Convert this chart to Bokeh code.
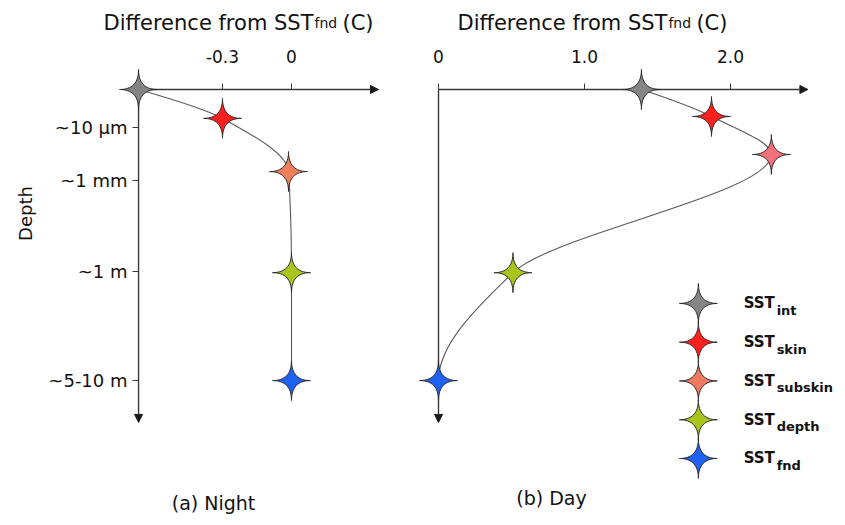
import numpy as np
from bokeh.plotting import figure
from bokeh.models import Range1d, LinearAxis, FixedTicker, Arrow, NormalHead
from bokeh.core.properties import value
from bokeh.embed import file_html
from bokeh.resources import INLINE

# ---------------- data ----------------
series = ["int", "skin", "subskin", "depth", "fnd"]
night_colors = ["#858585", "#ff1f1f", "#f0805c", "#a9c41c", "#1f62f2"]
day_colors = ["#858585", "#ff1f1f", "#f2707c", "#a9c41c", "#1f62f2"]
legend_colors = ["#858585", "#ff1f1f", "#ee7b60", "#a9c41c", "#1f62f2"]

night_diff = [-0.665, -0.30, -0.013, 0.0, 0.0]
night_depth = [0.0, 0.76, 2.16, 4.82, 7.66]
day_diff = [1.39, 1.87, 2.28, 0.51, 0.0]
day_depth = [0.0, 0.71, 1.71, 4.82, 7.66]

night_ticks = [-0.3, 0.0]
night_tick_labels = ["-0.3", "0"]
day_ticks = [0.0, 1.0, 2.0]
day_tick_labels = ["0", "1.0", "2.0"]
depth_ticks = [1.0, 2.39, 4.79, 7.66]
depth_tick_labels = ["~10 μm", "~1 mm", "~1 m", "~5-10 m"]

# ---------------- layout constants ----------------
NX, DX, DY = 230.0, 146.0, 38.0          # px per unit (night x, day x, depth)
NIGHT_X0, NIGHT_X_END = -0.665, 0.378
DAY_X0, DAY_X_END = 0.0, 2.53
DEPTH_END = 8.76
FONT = "DejaVu Sans"
AXIS_COLOR = "#3a3a3a"

p = figure(width=837, height=517,
           x_range=Range1d(-1.2652, 2.3739), y_range=Range1d(11.263, -2.3421),
           x_axis_location=None, y_axis_location=None,
           toolbar_location=None, output_backend="svg", min_border=0)
p.extra_x_ranges = {"day": Range1d(-3.0, 2.7329)}
p.grid.visible = False
p.outline_line_color = None
p.background_fill_color = "white"


def style_axis(ax, size="17px"):
    ax.axis_line_color = None
    ax.major_tick_out = 6
    ax.major_tick_in = 0
    ax.major_tick_line_color = AXIS_COLOR
    ax.major_tick_line_width = 1
    ax.minor_tick_line_color = None
    ax.major_label_text_font = FONT
    ax.major_label_text_font_size = size
    ax.major_label_text_color = "#111111"


ax_n = LinearAxis(ticker=FixedTicker(ticks=night_ticks), fixed_location=0)
ax_n.major_label_overrides = dict(zip(night_ticks, night_tick_labels))
style_axis(ax_n)
ax_n.major_label_standoff = 21
p.add_layout(ax_n, "above")

ax_d = LinearAxis(x_range_name="day", ticker=FixedTicker(ticks=day_ticks), fixed_location=0)
ax_d.major_label_overrides = dict(zip(day_ticks, day_tick_labels))
style_axis(ax_d)
ax_d.major_label_standoff = 21
p.add_layout(ax_d, "above")

ax_z = LinearAxis(ticker=FixedTicker(ticks=depth_ticks), fixed_location=NIGHT_X0)
ax_z.major_label_overrides = dict(zip(depth_ticks, depth_tick_labels))
style_axis(ax_z, "18px")
ax_z.major_label_standoff = 5
p.add_layout(ax_z, "left")


def head():
    return NormalHead(size=8, fill_color="#1a1a1a", line_color="#1a1a1a")


arrow_kw = dict(line_color=AXIS_COLOR, line_width=1.4, level="underlay")
p.add_layout(Arrow(end=head(), x_start=NIGHT_X0, y_start=0, x_end=NIGHT_X_END, y_end=0, **arrow_kw))
p.add_layout(Arrow(end=head(), x_start=NIGHT_X0, y_start=0, x_end=NIGHT_X0, y_end=DEPTH_END, **arrow_kw))
p.add_layout(Arrow(end=head(), x_start=DAY_X0, y_start=0, x_end=DAY_X_END, y_end=0,
                   x_range_name="day", **arrow_kw))
p.add_layout(Arrow(end=head(), x_start=DAY_X0, y_start=0, x_end=DAY_X0, y_end=DEPTH_END,
                   x_range_name="day", **arrow_kw))


# ---------------- smooth profile (monotone Hermite in depth -> Bezier) ----------------
def hermite_bezier(xv, dv):
    x = np.asarray(xv, float)
    d = np.asarray(dv, float)
    h = np.diff(d)
    delta = np.diff(x) / h
    n = len(x)
    m = np.zeros(n)
    for i in range(1, n - 1):
        if delta[i - 1] * delta[i] > 0:
            w1 = 2 * h[i] + h[i - 1]
            w2 = h[i] + 2 * h[i - 1]
            m[i] = (w1 + w2) / (w1 / delta[i - 1] + w2 / delta[i])
    m0 = ((2 * h[0] + h[1]) * delta[0] - h[0] * delta[1]) / (h[0] + h[1])
    m[0] = m0 if m0 * delta[0] > 0 else 0.0
    mn = ((2 * h[-1] + h[-2]) * delta[-1] - h[-1] * delta[-2]) / (h[-1] + h[-2])
    m[-1] = mn if mn * delta[-1] > 0 else 0.0
    return dict(x0=x[:-1], y0=d[:-1], x1=x[1:], y1=d[1:],
                cx0=x[:-1] + m[:-1] * h / 3, cy0=d[:-1] + h / 3,
                cx1=x[1:] - m[1:] * h / 3, cy1=d[1:] - h / 3)


curve_kw = dict(line_color="#5a5a5a", line_width=1.1)
p.bezier(**hermite_bezier(night_diff, night_depth), **curve_kw)
p.bezier(**hermite_bezier(day_diff, day_depth), x_range_name="day", **curve_kw)


# ---------------- four-pointed stars ----------------
def star(cx, cy, sx, sy, rx=19.0, ry=20.0, k=4.0, n=96):
    t = np.linspace(0, 2 * np.pi, n, endpoint=False)
    c, s = np.cos(t), np.sin(t)
    xs = cx + rx / sx * np.sign(c) * np.abs(c) ** k
    ys = cy + ry / sy * np.sign(s) * np.abs(s) ** k
    return list(xs), list(ys)


def stars(xv, dv, sx):
    xs, ys = [], []
    for a, b in zip(xv, dv):
        u, v = star(a, b, sx, DY)
        xs.append(u)
        ys.append(v)
    return xs, ys


star_kw = dict(line_color="#2b2b2b", line_width=1.0)
sx_, sy_ = stars(night_diff, night_depth, NX)
p.patches(sx_, sy_, fill_color=night_colors, **star_kw)
sx_, sy_ = stars(day_diff, day_depth, DX)
p.patches(sx_, sy_, fill_color=day_colors, x_range_name="day", **star_kw)

# legend (in day panel)
LEG_X, LEG_TX, LEG_Y0, LEG_STEP = 1.78, 2.09, 5.63, 1.02
leg_y = [LEG_Y0 + i * LEG_STEP for i in range(len(series))]
sx_, sy_ = stars([LEG_X] * len(series), leg_y, DX)
p.patches(sx_, sy_, fill_color=legend_colors, x_range_name="day", **star_kw)
p.text(x=[LEG_TX] * len(series), y=leg_y, text=["SST"] * len(series), x_range_name="day",
       text_font=value(FONT), text_font_style="bold", text_font_size="15px",
       text_align="left", text_baseline="middle", text_color="#111111")
p.text(x=[LEG_TX] * len(series), y=leg_y, text=series, x_range_name="day",
       x_offset=33, y_offset=7,
       text_font=value(FONT), text_font_style="bold", text_font_size="13px",
       text_align="left", text_baseline="middle", text_color="#111111")

# ---------------- titles and labels ----------------
TITLE_Y = -1.76
title_kw = dict(text_font=value(FONT), text_color="#111111", text_baseline="alphabetic")
for xr, jx in (("default", 0.0957), ("day", 1.568)):
    p.text(x=[jx], y=[TITLE_Y], text=["Difference from SST"], x_range_name=xr,
           text_font_size="21px", text_align="right", **title_kw)
    p.text(x=[jx], y=[TITLE_Y], text=["fnd"], x_range_name=xr, x_offset=1,
           text_font_size="14px", text_align="left", **title_kw)
    p.text(x=[jx], y=[TITLE_Y], text=["(C)"], x_range_name=xr, x_offset=29,
           text_font_size="21px", text_align="left", **title_kw)

p.text(x=[-1.1565], y=[3.263], text=["Depth"], angle=np.pi / 2,
       text_font=value(FONT), text_font_size="18px", text_color="#111111",
       text_align="center", text_baseline="middle")
p.text(x=[-0.339], y=[10.87], text=["(a) Night"],
       text_font=value(FONT), text_font_size="19px", text_color="#111111",
       text_align="center", text_baseline="middle")
p.text(x=[0.774], y=[10.76], text=["(b) Day"], x_range_name="day",
       text_font=value(FONT), text_font_size="19px", text_color="#111111",
       text_align="center", text_baseline="middle")

open("out.html", "w").write(file_html(p, INLINE))
